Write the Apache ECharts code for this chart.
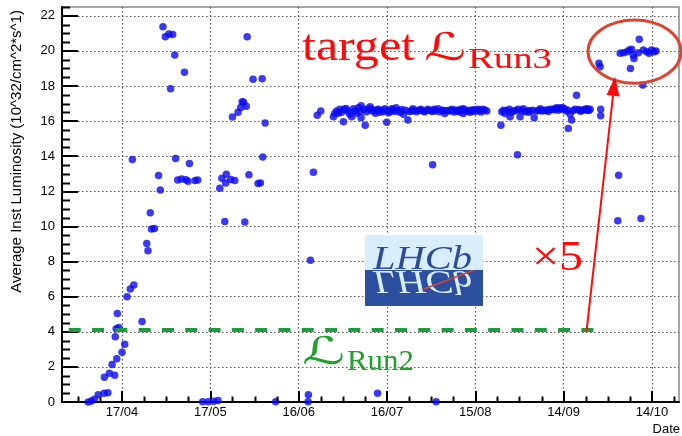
<!DOCTYPE html>
<html><head><meta charset="utf-8">
<script src="https://cdn.jsdelivr.net/npm/echarts@6/dist/echarts.min.js"></script>
<style>html,body{margin:0;padding:0;background:#fff}#c{width:682px;height:436px}</style>
</head><body><div id="c"></div>
<script>
// x values: days after 17/04 ; y values: average inst. luminosity (10^32 cm^-2 s^-1)
const TICK_DAYS = [0, 30, 60, 90, 120, 150, 180];
const TICK_LABELS = ['17/04', '17/05', '16/06', '16/07', '15/08', '14/09', '14/10'];
const Y_TICKS = [0, 2, 4, 6, 8, 10, 12, 14, 16, 18, 20, 22];

const POINTS_APR = [
  [-11.5,0.00],[-10.4,0.06],[-9.4,0.16],[-8.1,0.41],[-6.1,0.50],[-4.8,0.52],
  [-6.0,1.41],[-4.3,1.64],[-2.5,1.53],[-3.4,2.13],[-1.8,2.46],[0.0,2.84],[0.9,3.29],
  [-2.3,3.71],[-2.0,4.17],[-1.1,4.25],[-1.6,5.04],[1.7,5.99],[2.8,6.43],[4.0,6.66],[6.8,4.59],
  [8.4,9.03],[8.8,8.61],[9.6,10.78],[10.0,9.85],[11.0,9.89],
  [3.5,13.82],[12.4,12.90],[13.0,12.07],
  [13.9,21.37],[14.7,20.80],[15.9,20.96],[17.2,20.94],[17.9,19.76],[21.2,18.79],[16.5,17.84],
  [18.2,13.87],[22.9,13.59],[18.9,12.64],[20.2,12.70],[21.7,12.66],[22.4,12.58],[24.8,12.62],[25.7,12.64]
];
const POINTS_MAY = [
  [27.4,0.02],[29.3,0.02],[31.1,0.04],[32.6,0.08],
  [33.2,12.18],[33.9,12.75],[35.4,12.98],[35.2,12.48],[36.9,12.68],[38.3,12.62],
  [34.9,10.28],[41.7,10.25],
  [37.5,16.23],[39.4,16.50],[40.3,16.78],[40.8,17.10],[41.3,17.07],[42.2,16.84],
  [42.5,20.80],[44.5,18.39],[47.6,18.41],
  [43.1,12.94],[46.2,12.45],[47.0,12.48],[47.8,13.95],[48.6,15.89],
  [52.2,0.02]
];
const POINTS_JUN_AUG = [
  [63.2,0.02],[63.3,0.42],[64.0,8.08],[65.0,13.08],
  [66.3,16.34],[67.5,16.57],
  [71.8,16.25],[72.3,16.45],[72.9,16.57],[73.5,16.45],[74.0,16.67],[74.6,16.50],[75.2,15.96],[75.5,16.68],
  [76.1,16.72],[76.7,16.57],[77.3,16.40],[78.0,16.25],[78.6,16.70],[79.1,16.57],[79.7,16.45],[80.3,16.76],
  [80.8,16.55],[81.2,16.87],[81.2,16.19],[82.1,16.68],[82.6,15.77],[83.0,16.53],[83.6,16.70],[84.3,16.82],
  [84.7,16.68],[85.0,16.57],[85.8,16.62],[86.1,16.45],[86.6,16.60],[86.8,0.50],[87.0,16.68],[87.5,16.50],
  [88.2,16.62],[88.8,16.53],[89.3,16.70],[89.9,15.93],[90.2,16.60],[90.6,16.48],[91.1,16.57],[91.6,16.70],
  [92.0,16.65],[92.6,16.55],[93.1,16.76],[93.7,16.60],[94.4,16.50],[95.0,16.66],[95.6,16.39],[96.3,16.62],
  [97.1,16.07],[97.7,16.55],[98.3,16.57],[98.8,16.70],[99.2,16.60],[100.0,16.53],[100.7,16.62],[101.5,16.68],
  [102.1,16.58],[102.8,16.53],[103.4,16.60],[103.9,16.68],[104.9,16.60],[105.3,16.55],[105.5,13.51],[106.0,16.68],
  [106.5,16.58],[106.7,0.02],[107.3,16.70],[107.9,16.53],[108.7,16.62],[109.1,16.60],[109.6,16.44],[110.3,16.60],
  [111.1,16.57],[111.6,16.60],[112.0,16.68],[112.8,16.52],[113.2,16.64],[113.7,16.57],[114.3,16.60],[114.7,16.52],
  [115.0,16.68],[115.9,16.44],[116.0,16.70],[116.5,16.62],[117.1,16.57],[117.7,16.60],[118.2,16.50],[118.8,16.63],
  [119.3,16.55],[119.7,16.65],[120.5,16.57],[121.0,16.68],[121.5,16.60],[122.0,16.52],[122.5,16.68],[123.2,16.64],
  [123.9,16.57]
];
const POINTS_AUG_SEP = [
  [128.7,15.77],[129.0,16.53],[129.6,16.62],[130.1,16.44],[130.6,16.60],[131.6,16.68],[131.8,16.25],[132.3,16.50],
  [133.2,16.57],[133.9,16.62],[134.3,14.08],[134.6,16.68],[135.2,16.25],[135.8,16.60],[136.3,16.70],[136.9,16.53],
  [137.8,16.60],[138.1,16.50],[138.6,16.57],[139.5,16.62],[140.0,16.19],[140.9,16.57],[141.6,16.62],[142.1,16.70],
  [142.6,16.57],[143.4,16.60],[144.2,16.63],[144.8,16.55],[145.3,16.66],[145.9,16.68],[146.8,16.65],[147.1,16.70],
  [147.6,16.76],[148.1,16.62],[148.7,16.76],[149.2,16.68],[149.7,16.76],[150.2,16.70],[150.8,16.57],[151.3,16.64],
  [151.6,15.58],[152.2,16.39],[152.7,16.07],[153.3,16.60],[153.9,16.68],[154.4,17.48],[155.1,16.66],[155.6,16.57],
  [156.0,16.58],[156.5,16.63],[157.3,16.68],[157.8,16.62],[158.0,16.70],[158.6,16.60],[159.0,16.68],
  [162.6,16.68],[162.6,16.30]
];
const POINTS_OCT = [
  [162.0,19.29],[162.4,19.10],[168.4,10.32],[168.7,12.92],[176.3,10.45],[176.9,18.05],
  [169.2,19.86],[170.3,19.89],[171.5,19.95],[172.3,20.05],[173.1,20.09],[173.7,19.76],[173.9,19.57],[172.7,19.00],
  [175.4,19.89],[175.7,20.67],[177.1,20.05],[178.2,19.95],[179.0,19.86],[179.9,20.05],[180.7,19.95],[181.4,20.00]
];
const RUN2_LEVEL = 4.1;
const RUN2_SPAN = [-18.1, 162.0];
const TARGET_CENTER = [174.1, 19.96];
const TARGET_RADII = [15.8, 1.8];
const ARROW_FROM = [157.8, 4.05];
const ARROW_TO = [167.5, 18.52];

const XMIN = -20.4, XMAX = 189.2, YMIN = 0, YMAX = 22.5;

const MINOR_X = [];
for (let v = -15; v <= XMAX; v += 7.5) if (v % 30 !== 0) MINOR_X.push(v);
const MINOR_Y = [];
for (let v = 0.5; v <= YMAX; v += 0.5) if (v % 2 !== 0) MINOR_Y.push(v);

const ALL_POINTS = [].concat(POINTS_APR, POINTS_MAY, POINTS_JUN_AUG, POINTS_AUG_SEP, POINTS_OCT);

const chart = echarts.init(document.getElementById('c'));
const SANS = 'Liberation Sans, Arial, Helvetica, sans-serif';

chart.setOption({
  animation: false,
  grid: {left: 62, right: 3, top: 7, bottom: 34, show: true, borderColor: '#888', borderWidth: 1.5},
  xAxis: {type: 'value', min: XMIN, max: XMAX,
     axisLine: {onZero: false, lineStyle: {color: '#000', width: 2}},
     axisTick: {show: true, inside: true, length: 11, customValues: TICK_DAYS, lineStyle: {color: '#000', width: 2}},
     axisLabel: {customValues: TICK_DAYS, margin: 4, color: '#000', fontSize: 13, fontFamily: SANS,
                 formatter: v => TICK_LABELS[TICK_DAYS.indexOf(v)] || ''},
     splitLine: {show: true, lineStyle: {color: '#555', width: 1.2, type: [1.5, 2.5]}}},
  yAxis: {type: 'value', min: YMIN, max: YMAX,
     axisLine: {show: true, onZero: false, lineStyle: {color: '#000', width: 2}},
     axisTick: {show: true, inside: true, length: 16, customValues: Y_TICKS, lineStyle: {color: '#000', width: 2}},
     axisLabel: {customValues: Y_TICKS, margin: 7, color: '#000', fontSize: 13, fontFamily: SANS},
     splitLine: {show: true, lineStyle: {color: '#555', width: 1.2, type: [1.5, 2.5]}}},
  series: [
    {type: 'line', name: 'Run2', symbol: 'none',
     data: [[RUN2_SPAN[0], RUN2_LEVEL], [RUN2_SPAN[1], RUN2_LEVEL]],
     lineStyle: {color: '#1a9e3a', width: 4, type: [12, 11.3]}},
    {type: 'scatter', name: 'lumi', data: ALL_POINTS, symbol: 'circle', symbolSize: 7.5,
     itemStyle: {color: '#0a0af2'}}
  ]
});

// ----- minor ticks and annotations (placed through the chart's own scales) -----
const px = (d, v) => chart.convertToPixel({xAxisIndex: 0, yAxisIndex: 0}, [d, v]);
const crisp = v => Math.round(v) + 0.5;
const graphics = [];
const p0 = px(XMIN, YMIN);
const gLeft = p0[0], gBottom = p0[1];
MINOR_X.forEach(v => {
  const x = crisp(px(v, YMIN)[0]);
  graphics.push({type: 'line', z: 45, shape: {x1: x, y1: gBottom, x2: x, y2: gBottom - 5.5}, style: {stroke: '#000', lineWidth: 2}});
});
MINOR_Y.forEach(v => {
  const y = crisp(px(XMIN, v)[1]);
  graphics.push({type: 'line', z: 45, shape: {x1: gLeft, y1: y, x2: gLeft + 8, y2: y}, style: {stroke: '#000', lineWidth: 2}});
});

const mctx = document.createElement('canvas').getContext('2d');
function widthOf(str, font) { mctx.font = font; return mctx.measureText(str).width; }
function fitText(str, family, size, left, right, baseline, color, extra) {
  const font = (extra || '') + ' ' + size + 'px ' + family;
  const w = widthOf(str, font);
  return {type: 'text', x: left, y: baseline - 0.31 * size, scaleX: (right - left) / w, z: 50,
    style: {text: str, font: font, fill: color, align: 'left', verticalAlign: 'middle',
            textAlign: 'left', textVerticalAlign: 'middle'}};
}
const SERIF = 'Liberation Serif, Times New Roman, serif';
const SCRIPT = 'DejaVu Serif, DejaVu Sans, serif';
const RED = '#ff0a0a', GREEN = '#1fa12b';

const c = px(TARGET_CENTER[0], TARGET_CENTER[1]);
const e1 = px(TARGET_CENTER[0] + TARGET_RADII[0], TARGET_CENTER[1] + TARGET_RADII[1]);
const a0 = px(ARROW_FROM[0], ARROW_FROM[1]);
const a1 = px(ARROW_TO[0], ARROW_TO[1]);
const dx = a1[0] - a0[0], dy = a1[1] - a0[1], L = Math.hypot(dx, dy);
const ux = dx / L, uy = dy / L, HL = 19, HW = 6.5;
const bx = a1[0] - ux * HL, by = a1[1] - uy * HL;

const logoL = 365, logoT = 235, logoW = 118, logoMid = 270, logoB = 306;
const logoText = 'LHCb', logoFont = 'italic 34px ' + SERIF;
const logoScale = (472 - 373) / widthOf(logoText, logoFont);

graphics.push(
  // LHCb logo
  {type: 'rect', z: 50, shape: {x: logoL, y: logoT, width: logoW, height: logoMid - logoT}, style: {fill: '#d8eefa'}},
  {type: 'rect', z: 50, shape: {x: logoL, y: logoMid, width: logoW, height: logoB - logoMid}, style: {fill: '#2c4f9f'}},
  {type: 'text', z: 51, x: 373, y: logoMid, scaleX: logoScale,
   style: {text: logoText, font: logoFont, fill: '#2b4c9c', align: 'left', verticalAlign: 'bottom', textAlign: 'left', textVerticalAlign: 'bottom', padding: [0,0,-7,0]}},
  {type: 'text', z: 51, x: 373, y: logoMid, scaleX: logoScale, scaleY: -1,
   style: {text: logoText, font: logoFont, fill: '#d8eefa', align: 'left', verticalAlign: 'bottom', textAlign: 'left', textVerticalAlign: 'bottom', padding: [0,0,-7,0]}},
  {type: 'line', z: 52, shape: {x1: 424, y1: 289, x2: 473, y2: 270.5}, style: {stroke: '#d5462f', lineWidth: 1.5}},
  // target ellipse
  {type: 'ellipse', z: 50, shape: {cx: c[0], cy: c[1], rx: Math.abs(e1[0] - c[0]), ry: Math.abs(c[1] - e1[1])},
   style: {fill: 'none', stroke: '#e2412d', lineWidth: 3}},
  // arrow
  {type: 'line', z: 50, shape: {x1: a0[0], y1: a0[1], x2: bx, y2: by}, style: {stroke: RED, lineWidth: 2}},
  {type: 'polygon', z: 50, shape: {points: [[a1[0], a1[1]], [bx - uy * HW, by + ux * HW], [bx + uy * HW, by - ux * HW]]},
   style: {fill: RED}},
  // labels
  fitText('target', SERIF, 45, 302, 415, 62, RED),
  fitText('\u2112', SCRIPT, 38, 424, 466, 62, RED),
  fitText('Run3', SERIF, 30, 468, 552, 69, RED),
  fitText('\u00d75', SERIF, 42, 532, 583, 272, RED),
  fitText('\u2112', SCRIPT, 38, 302, 345, 366, GREEN),
  fitText('Run2', SERIF, 30, 347, 414, 371, GREEN),
  // axis titles
  {type: 'text', z: 50, x: 17, y: 10, rotation: Math.PI / 2,
   style: {text: 'Average Inst Luminosity (10^32/cm^2*s^1)', font: '15px ' + SANS, fill: '#000',
           align: 'right', verticalAlign: 'middle', textAlign: 'right', textVerticalAlign: 'middle'}},
  {type: 'text', z: 50, x: 680, y: 429,
   style: {text: 'Date', font: '13px ' + SANS, fill: '#000', align: 'right', verticalAlign: 'middle',
           textAlign: 'right', textVerticalAlign: 'middle'}}
);
chart.setOption({graphic: graphics});
</script>
</body></html>
